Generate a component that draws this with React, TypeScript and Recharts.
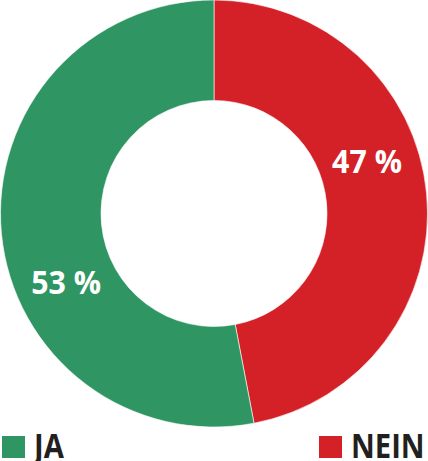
import { PieChart, Pie, Cell, Legend } from 'recharts';

const categories = ['NEIN', 'JA'];
const values = [47, 53];
const labels = ['47 %', '53 %'];
const colors = ['#d42027', '#2f9563'];
// shift of the percent labels away from the slice middle, in degrees
const labelShift = [14, 19];

const data = categories.map((name, i) => ({ name, value: values[i], label: labels[i] }));

const RADIAN = Math.PI / 180;

const renderLabel = (props: any) => {
  const { cx, cy, midAngle, innerRadius, outerRadius, index } = props;
  const r = (innerRadius + outerRadius) / 2 - 1;
  const a = (midAngle + labelShift[index]) * RADIAN;
  const x = cx + r * Math.cos(a);
  const y = cy - r * Math.sin(a);
  return (
    <text
      x={x}
      y={y}
      fill="#fff"
      textAnchor="middle"
      dominantBaseline="central"
      fontFamily="'Open Sans', sans-serif"
      fontWeight={700}
      fontSize={33}
      transform={`translate(${x} ${y}) scale(0.92 1) translate(${-x} ${-y})`}
    >
      {data[index].label}
    </text>
  );
};

const LegendContent = () => {
  const lefts = [319, 2];
  return (
    <div style={{ position: 'relative', width: 428, height: 31 }}>
      {data.map((d, i) => (
        <div key={d.name} style={{ position: 'absolute', left: lefts[i], top: 0, height: 31 }}>
          <span
            style={{
              position: 'absolute',
              left: 0,
              top: 6,
              width: 23,
              height: 22,
              background: colors[i],
            }}
          />
          <span
            style={{
              position: 'absolute',
              left: 32,
              top: 1,
              fontFamily: "'Open Sans', sans-serif",
              fontWeight: 700,
              fontSize: 34,
              lineHeight: '28px',
              color: '#231f20',
              whiteSpace: 'nowrap',
              transform: 'scaleX(0.86)',
              transformOrigin: 'left center',
            }}
          >
            {d.name}
          </span>
        </div>
      ))}
    </div>
  );
};

export default function App() {
  return (
    <div style={{ position: 'absolute', left: 0, top: 0, width: 428, height: 461, overflow: 'hidden', background: '#fff' }}>
      <PieChart width={428} height={461} margin={{ top: 0, right: 0, bottom: 0, left: 0 }}>
        <Pie
          data={data}
          dataKey="value"
          nameKey="name"
          cx={214}
          cy={213.5}
          innerRadius={113}
          outerRadius={213.5}
          startAngle={90}
          endAngle={-270}
          stroke="#fff"
          strokeWidth={0.6}
          label={renderLabel}
          labelLine={false}
          isAnimationActive={false}
        >
          {data.map((d, i) => (
            <Cell key={d.name} fill={colors[i]} />
          ))}
        </Pie>
        <Legend
          content={<LegendContent />}
          wrapperStyle={{ position: 'absolute', left: 0, top: 430, width: 428 }}
        />
      </PieChart>
    </div>
  );
}
